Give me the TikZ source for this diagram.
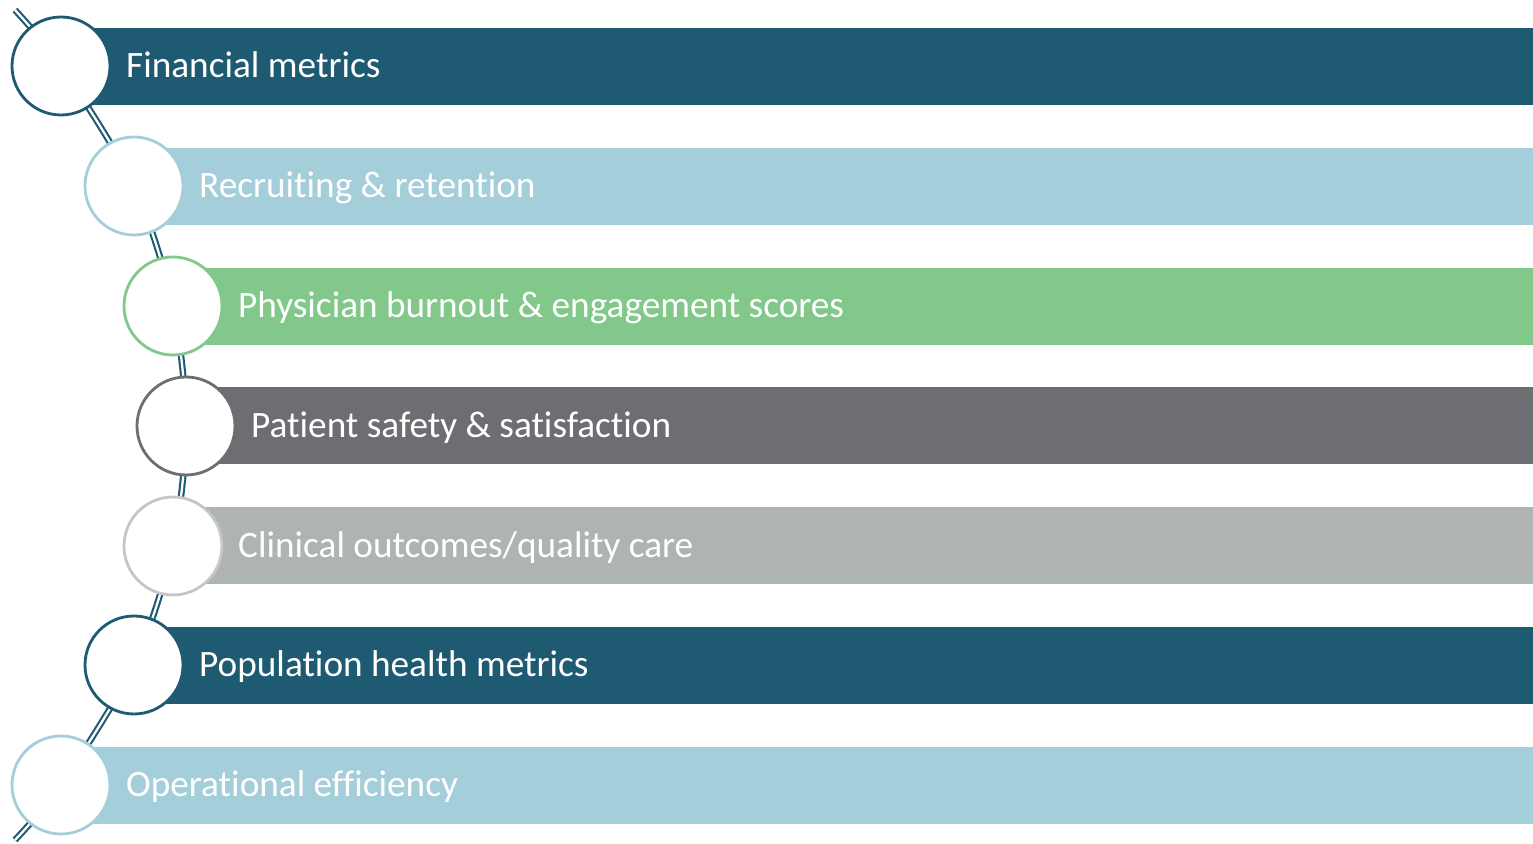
\documentclass[tikz,border=0pt]{standalone}
\usepackage{fontspec}
\setmainfont{Carlito}[Ligatures={CommonOff,RequiredOff,ContextualOff,RareOff}]
\usepackage{tikz}
\definecolor{tealdark}{HTML}{1E5A72}
\definecolor{bluelight}{HTML}{A5CEDB}
\definecolor{greenmid}{HTML}{82C88A}
\definecolor{greydark}{HTML}{6D6E71}
\definecolor{greylight}{HTML}{ADB4B3}
\definecolor{greyring}{HTML}{C6C6C6}
\tikzstyle{ring} = [
	circle,
	minimum size=0.98cm,
	inner sep=0pt,
	fill=white,
	line width=0.8pt
]
\tikzstyle{label} = [anchor=base west, inner sep=0pt, text=white, xshift=0.645cm, yshift=-0.12cm, font=\fontsize{10.6}{12}\selectfont]
\tikzstyle{link} = [draw=tealdark, double=white, double distance=0.65pt, line width=0.6pt]

\begin{document}
\begin{tikzpicture}
    \useasboundingbox (0, 0) rectangle (15.33, -8.44);
    \coordinate (p0) at (0.15, -0.10);
    \coordinate (p1) at (0.61, -0.66);
    \coordinate (p2) at (1.34, -1.86);
    \coordinate (p3) at (1.73, -3.06);
    \coordinate (p4) at (1.86, -4.26);
    \coordinate (p5) at (1.73, -5.46);
    \coordinate (p6) at (1.34, -6.65);
    \coordinate (p7) at (0.61, -7.85);
    \coordinate (p8) at (0.15, -8.40);
    % the chain behind the rings
    \draw [link] plot [smooth, tension=0.5] coordinates {(p0) (p1) (p2) (p3) (p4) (p5) (p6) (p7) (p8)};
    % bars
    \fill [tealdark] (0.61, -0.28) rectangle (15.33, -1.05);
    \fill [bluelight] (1.34, -1.48) rectangle (15.33, -2.25);
    \fill [greenmid] (1.73, -2.68) rectangle (15.33, -3.45);
    \fill [greydark] (1.86, -3.87) rectangle (15.33, -4.64);
    \fill [greylight] (1.73, -5.07) rectangle (15.33, -5.84);
    \fill [tealdark] (1.34, -6.27) rectangle (15.33, -7.04);
    \fill [bluelight] (0.61, -7.47) rectangle (15.33, -8.24);
    % rings
    \node [ring, draw=tealdark] (ring A) at (p1) {};
    \node [ring, draw=bluelight] (ring B) at (p2) {};
    \node [ring, draw=greenmid] (ring C) at (p3) {};
    \node [ring, draw=greydark] (ring D) at (p4) {};
    \node [ring, draw=greyring] (ring E) at (p5) {};
    \node [ring, draw=tealdark] (ring F) at (p6) {};
    \node [ring, draw=bluelight] (ring G) at (p7) {};
    % texts
    \node [label] (text A) at (p1) {Financial metrics};
    \node [label] (text B) at (p2) {Recruiting \& retention};
    \node [label] (text C) at (p3) {Physician burnout \& engagement scores};
    \node [label] (text D) at (p4) {Patient safety \& satisfaction};
    \node [label] (text E) at (p5) {Clinical outcomes/quality care};
    \node [label] (text F) at (p6) {Population health metrics};
    \node [label] (text G) at (p7) {Operational efficiency};
  \end{tikzpicture}
\end{document}
